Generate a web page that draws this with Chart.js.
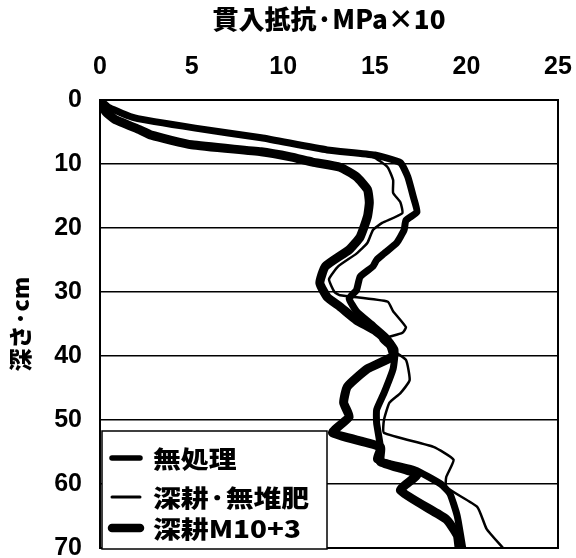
<!DOCTYPE html>
<html>
<head>
<meta charset="utf-8">
<script src="https://cdn.jsdelivr.net/npm/chart.js@4/dist/chart.umd.min.js"></script>
<style>
  html, body { margin: 0; padding: 0; background: #fff; overflow: hidden; }
  canvas { display: block; }
</style>
</head>
<body>
<canvas id="c" width="576" height="558"></canvas>
<script>
// Penetration resistance profiles (MPa x 10) by depth (cm)
const seriesLabels = ['無処理', '深耕·無堆肥', '深耕M10+3'];

const depthNone = [0, 1.2, 2.8, 4.4, 5.9, 7.8, 8.6, 9.8, 12, 15.1, 17.5, 18.8, 20.3, 22.3, 24, 25, 26, 27.6, 29.7, 31, 33, 35, 37, 39, 42, 45.8, 48.4, 50.5, 54.2, 56.2, 57.8, 60, 61.5, 65, 70];
const valNone   = [0, 0.5, 1.9, 5.2, 8.8, 12.4, 15.0, 16.4, 16.8, 17.1, 17.3, 16.7, 16.6, 16.2, 15.5, 15.1, 14.9, 14.2, 14.0, 13.6, 14.0, 14.8, 15.6, 16.1, 16.0, 15.5, 15.1, 15.1, 15.3, 15.1, 17.2, 18.6, 19.1, 19.5, 19.8];

const depthDeep = [0, 1.2, 2.8, 4.4, 5.9, 7.2, 8.9, 10.5, 12.5, 14.5, 16, 17.7, 19.2, 20.3, 22.3, 24, 26, 28, 30, 30.5, 31.5, 33, 35.5, 36.4, 37.5, 39, 40.6, 43.8, 45.8, 47.3, 50, 52, 54.2, 56.2, 58.9, 60.5, 63.6, 67, 70];
const valDeep   = [0, 0.5, 1.9, 5.2, 8.8, 11.0, 14.9, 15.7, 16.0, 16.0, 16.4, 16.5, 15.4, 14.9, 14.6, 14.0, 13.0, 12.5, 12.8, 13.1, 15.7, 16.0, 16.7, 16.5, 15.3, 15.9, 16.7, 16.9, 16.4, 15.8, 15.5, 15.5, 18.2, 19.3, 18.9, 18.9, 20.6, 21.1, 22.0];

const depthM = [0, 1.8, 3, 4.7, 5.5, 7.0, 8.1, 8.9, 9.7, 10.5, 12, 14, 16, 18.2, 21.4, 23.4, 26, 28.6, 30.8, 32.3, 34.4, 36, 38, 40, 42, 44.8, 47.3, 49.5, 52, 54.2, 56.5, 58.5, 61, 65.5, 68, 70];
const valM   = [0, 0.3, 0.8, 2.2, 2.8, 5.0, 8.8, 10.4, 11.6, 13.1, 14.0, 14.6, 14.7, 14.6, 14.2, 13.6, 12.3, 12.0, 12.4, 13.1, 14.0, 15.0, 15.8, 16.0, 14.6, 13.5, 13.3, 13.6, 12.7, 15.3, 15.3, 17.3, 16.4, 18.9, 19.5, 19.6];

const toPoints = (vals, depths) => vals.map((v, i) => ({ x: v, y: depths[i] }));

const CJK = '"Noto Sans CJK JP", "Noto Sans", sans-serif';
const LAT = '"Liberation Sans", Arial, sans-serif';

// Plot frame drawn around the chart area
const framePlugin = {
  id: 'frame',
  beforeDatasetsDraw(chart) {
    const { ctx, chartArea: a } = chart;
    ctx.save();
    ctx.strokeStyle = '#000';
    ctx.lineWidth = 2;
    ctx.strokeRect(a.left, a.top, a.right - a.left, a.bottom - a.top);
    ctx.restore();
  }
};

// Boxed legend in the lower-left corner of the plot
const boxLegend = {
  id: 'boxLegend',
  afterDatasetsDraw(chart) {
    const { ctx, chartArea: a } = chart;
    const left = a.left + 2, right = a.left + 227, top = a.bottom - 117, bottom = a.bottom + 1;
    ctx.save();
    ctx.fillStyle = '#fff';
    ctx.fillRect(left, top, right - left, bottom - top);
    ctx.strokeStyle = '#000';
    ctx.lineWidth = 1.5;
    ctx.strokeRect(left, top, right - left, bottom - top);
    const rows = [top + 27, top + 66, top + 97];
    chart.data.datasets.forEach((ds, i) => {
      const y = rows[i];
      ctx.beginPath();
      ctx.lineCap = 'round';
      ctx.strokeStyle = '#000';
      ctx.lineWidth = ds.legendWidth;
      ctx.moveTo(left + 10, y);
      ctx.lineTo(left + 38, y);
      ctx.stroke();
      ctx.save();
      ctx.translate(left + 51, y);
      ctx.scale(1.16, 1);
      ctx.fillStyle = '#000';
      ctx.font = '900 24px ' + CJK;
      ctx.textBaseline = 'middle';
      ctx.fillText(ds.label, 0, 1);
      ctx.restore();
    });
    ctx.restore();
  }
};

const lineStyle = (w) => ({
  borderColor: '#000',
  borderWidth: w,
  pointRadius: 0,
  tension: 0.15,
  borderJoinStyle: 'round',
  borderCapStyle: 'round',
  fill: false
});

new Chart(document.getElementById('c'), {
  type: 'line',
  data: {
    datasets: [
      Object.assign({ label: seriesLabels[0], data: toPoints(valNone, depthNone), legendWidth: 5.5 }, lineStyle(7)),
      Object.assign({ label: seriesLabels[1], data: toPoints(valDeep, depthDeep), legendWidth: 3 }, lineStyle(2.5)),
      Object.assign({ label: seriesLabels[2], data: toPoints(valM, depthM), legendWidth: 8.5 }, lineStyle(9))
    ]
  },
  options: {
    responsive: false,
    devicePixelRatio: 1,
    animation: false,
    layout: { padding: { left: 0, right: 18, top: 0, bottom: 10 } },
    plugins: { legend: { display: false }, tooltip: { enabled: false } },
    scales: {
      x: {
        type: 'linear',
        position: 'top',
        min: 0, max: 25,
        afterFit: (s) => { s.height = 100; s.paddingLeft = 0; s.paddingRight = 0; },
        ticks: { stepSize: 5, padding: 18, color: '#000', font: { family: LAT, size: 25, weight: 'bold' } },
        grid: { display: false, drawTicks: false },
        border: { display: true, color: '#000', width: 2 },
        title: {
          display: true,
          text: '貫入抵抗·MPa×10',
          color: '#000',
          font: { family: CJK, size: 26, weight: '900' },
          padding: { top: 4, bottom: 0 }
        }
      },
      y: {
        type: 'linear',
        reverse: true,
        min: 0, max: 70,
        afterFit: (s) => { s.width = 100; s.paddingTop = 0; s.paddingBottom = 0; },
        ticks: { stepSize: 10, padding: 18, color: '#000', font: { family: LAT, size: 25, weight: 'bold' } },
        grid: { color: '#000', lineWidth: 1.5, drawTicks: false },
        border: { display: true, color: '#000', width: 2 },
        title: {
          display: true,
          text: '深さ·cm',
          color: '#000',
          font: { family: CJK, size: 23, weight: '900' },
          padding: { top: 6, bottom: 0 }
        }
      }
    }
  },
  plugins: [framePlugin, boxLegend]
});
</script>
</body>
</html>
